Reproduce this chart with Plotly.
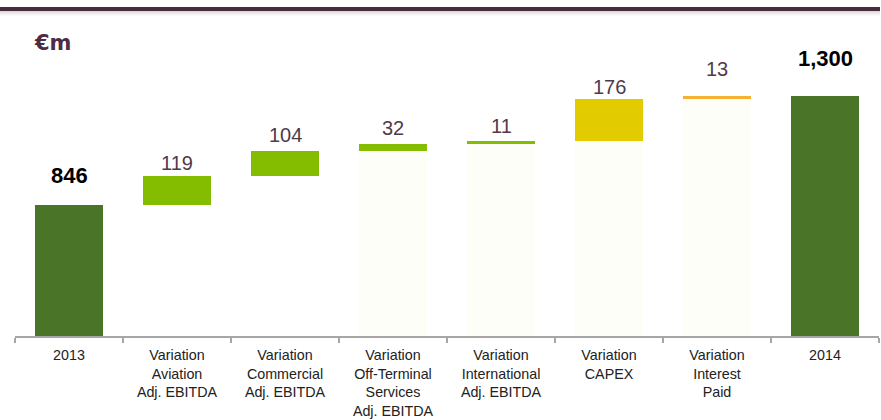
import plotly.graph_objects as go

# Bridge from 2013 to 2014 (€m)
categories = [
    "2013",
    "Variation<br>Aviation<br>Adj. EBITDA",
    "Variation<br>Commercial<br>Adj. EBITDA",
    "Variation<br>Off-Terminal<br>Services<br>Adj. EBITDA",
    "Variation<br>International<br>Adj. EBITDA",
    "Variation<br>CAPEX",
    "Variation<br>Interest<br>Paid",
    "2014",
]
measures = ["total", "delta", "delta", "delta", "delta", "delta", "delta", "total"]
values = [846, 119, 104, 32, 11, 176, 13, 1300]
labels = ["846", "119", "104", "32", "11", "176", "13", "1,300"]

# Styling
bar_colors = ["#4a7529", "#84bd00", "#84bd00", "#84bd00", "#84bd00",
              "#e2cc00", "#f5b133", "#4a7529"]
base_colors = ["rgba(0,0,0,0)", "rgba(0,0,0,0)", "rgba(0,0,0,0)", "#fefef8",
               "#fefef8", "#fefef8", "#fefef8", "rgba(0,0,0,0)"]
label_lift = [19, 4, 7, 7, 6, 3, 18, 27]  # pixel gap between bar top and label

W, H = 881, 420
ML, MR, MT, MB = 15, 2, 36, 84
Y_MIN, Y_MAX = 300, 1550

# Running bases for the floating bars
bases, heights = [], []
running = 0
for m, v in zip(measures, values):
    if m == "total":
        bases.append(0)
        heights.append(v)
        running = v
    else:
        bases.append(running)
        heights.append(v)
        running += v

tops = [b + h for b, h in zip(bases, heights)]

fig = go.Figure()
# Pale pillars beneath the floating bars
fig.add_trace(go.Bar(
    x=categories, y=bases,
    marker=dict(color=base_colors, line=dict(width=0)),
    width=0.63, hoverinfo="skip", showlegend=False,
))
fig.add_trace(go.Bar(
    x=categories, y=heights, base=bases,
    marker=dict(color=bar_colors, line=dict(width=0)),
    width=0.63, showlegend=False,
))

for i, (t, lab, m) in enumerate(zip(tops, labels, measures)):
    is_total = m == "total"
    fig.add_annotation(
        x=i, y=t, text=f"<b>{lab}</b>" if is_total else lab,
        showarrow=False, yanchor="bottom", yshift=label_lift[i] - 4,
        font=dict(family="Liberation Sans, Arial",
                  size=22 if is_total else 20,
                  color="#000000" if is_total else "#4f3a4a"),
    )

pw, ph = W - ML - MR, H - MT - MB
def px_x(px):
    return (px - ML) / pw
def px_y(py):
    return (H - MB - py) / ph

# Units label
fig.add_annotation(
    xref="paper", yref="paper",
    x=px_x(32), y=px_y(43),
    xanchor="left", yanchor="middle", showarrow=False,
    text="<b>€m</b>",
    font=dict(family="DejaVu Sans", size=21, color="#4d2c44"),
)

# Header rule with a soft shadow
fig.add_shape(type="rect", xref="paper", yref="paper",
              x0=px_x(0), x1=px_x(880), y0=px_y(11), y1=px_y(7),
              fillcolor="#4a2c3e", line=dict(width=0), layer="above")
for k, a in enumerate([0.28, 0.2, 0.13, 0.08, 0.04]):
    fig.add_shape(type="rect", xref="paper", yref="paper",
                  x0=px_x(0), x1=px_x(880), y0=px_y(12 + k), y1=px_y(11 + k),
                  fillcolor=f"rgba(120,120,120,{a})", line=dict(width=0))

fig.update_layout(
    width=W, height=H,
    margin=dict(l=ML, r=MR, t=MT, b=MB, autoexpand=False),
    paper_bgcolor="white", plot_bgcolor="white",
    barmode="overlay", bargap=0,
    font=dict(family="Liberation Sans, Arial", size=14.3, color="#222222"),
    xaxis=dict(
        type="category", categoryorder="array", categoryarray=categories,
        range=[-0.5, len(categories) - 0.5], autorange=False,
        automargin=False, tickangle=0, ticklabelstandoff=5,
        showline=True, linecolor="#a6a6a6", linewidth=2,
        ticks="outside", tickson="boundaries", ticklen=5,
        tickcolor="#a6a6a6", tickwidth=2,
        showgrid=False, zeroline=False,
        tickfont=dict(size=14.3, color="#222222"),
    ),
    yaxis=dict(range=[Y_MIN, Y_MAX], autorange=False, visible=False,
               showgrid=False, automargin=False),
)

fig.write_html("out.html")
